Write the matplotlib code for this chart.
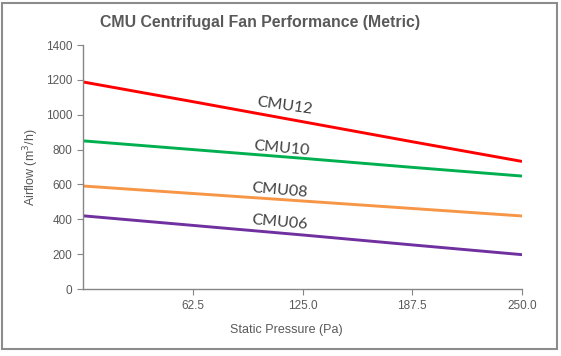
import matplotlib
matplotlib.use("Agg")
import matplotlib.pyplot as plt
from matplotlib.patches import Rectangle

pressure = [0, 62.5, 125.0, 187.5, 250.0]
cmu12 = [1188, 1075, 960, 845, 732]
cmu10 = [850, 800, 750, 698, 648]
cmu08 = [591, 548, 505, 462, 419]
cmu06 = [420, 365, 310, 253, 197]
series_names = ["CMU12", "CMU10", "CMU08", "CMU06"]
series_vals = [cmu12, cmu10, cmu08, cmu06]
colors = ["#FF0000", "#00B050", "#F79646", "#7030A0"]
xticks = [62.5, 125.0, 187.5, 250.0]
xtick_labels = ["62.5", "125.0", "187.5", "250.0"]
yticks = [0, 200, 400, 600, 800, 1000, 1200, 1400]

W, H = 561, 356
fig = plt.figure(figsize=(W / 100, H / 100), dpi=100)
fig.patch.set_facecolor("white")
fig.patches.append(Rectangle((2 / W, 7 / H), 555 / W, 346 / H, transform=fig.transFigure,
                             fill=False, edgecolor="#8c8c8c", linewidth=1.5))

ax = fig.add_axes([83 / W, (H - 289) / H, (522 - 83) / W, (289 - 45) / H])
for vals, c in zip(series_vals, colors):
    ax.plot(pressure, vals, color=c, linewidth=2.1, solid_capstyle="butt")

ax.set_xlim(0, 250)
ax.set_ylim(0, 1400)
ax.set_xticks(xticks)
ax.set_xticklabels(xtick_labels)
ax.set_yticks(yticks)
for s in ["top", "right"]:
    ax.spines[s].set_visible(False)
for s in ["left", "bottom"]:
    ax.spines[s].set_color("#868686")
    ax.spines[s].set_linewidth(1.0)
ax.tick_params(axis="both", colors="#868686", labelcolor="#595959", length=4,
               direction="out", labelsize=8.5)
for lab in ax.get_xticklabels() + ax.get_yticklabels():
    lab.set_family("Liberation Sans")
ax.tick_params(axis="x", pad=4)

fig.text(260 / W, 1 - 22 / H, "CMU Centrifugal Fan Performance (Metric)", ha="center", va="center",
         fontsize=11.4, fontweight="bold", color="#595959", family="Liberation Sans")
fig.text(286 / W, 1 - 330 / H, "Static Pressure (Pa)", ha="center", va="center",
         fontsize=9, color="#595959", family="Liberation Sans")
fig.text(31 / W, 1 - 167 / H, "Airflow (m$^3$/h)", ha="center", va="center", rotation=90,
         fontsize=9, color="#595959", family="Liberation Sans")

label_pos = [(285, 106, -8), (282, 148, -5), (280, 190, -5), (280, 222, -5)]
for name, (px, py, rot) in zip(series_names, label_pos):
    fig.text(px / W, 1 - py / H, name, ha="center", va="center", rotation=rot,
             fontsize=11.5, color="#404040", family="Lato")

fig.savefig("out.png", dpi=100, facecolor="white")
